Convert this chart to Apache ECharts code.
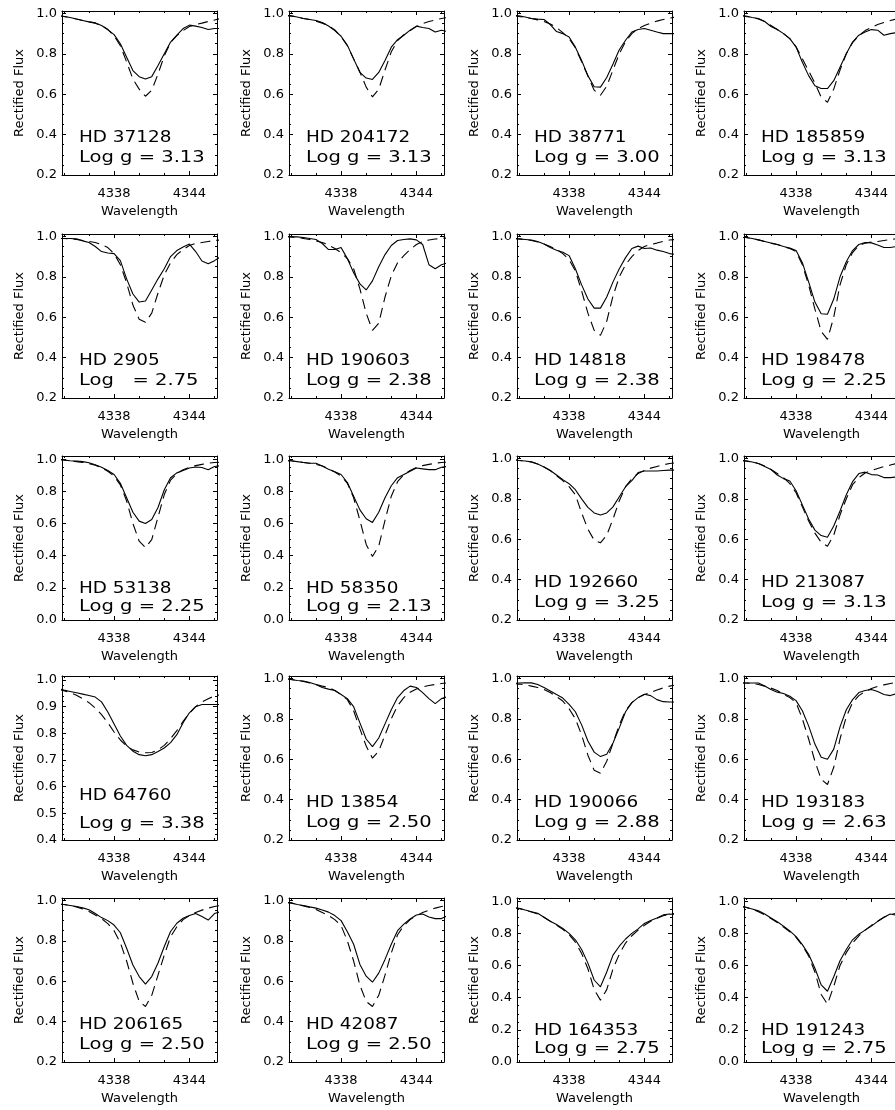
<!DOCTYPE html>
<html><head><meta charset="utf-8">
<script src="https://cdn.jsdelivr.net/npm/echarts@6/dist/echarts.min.js"></script>
<style>html,body{margin:0;padding:0;background:#fff}#c{width:895px;height:1110px}</style>
</head><body><div id="c"></div>
<script>
// ---------------- data ----------------
const WAVE = [4333.5,4334,4334.5,4335,4335.5,4336,4336.5,4337,4337.5,4338,4338.5,4339,4339.5,4340,4340.5,4341,4341.5,4342,4342.5,4343,4343.5,4344,4344.5,4345,4345.5,4346,4346.5];
const X_MIN = 4333.85, X_MAX = 4346.2;
const X_MAJOR = [4338, 4344];
const X_MINOR = [4334, 4336, 4340, 4342, 4346];

const STARS = ['HD 37128','HD 204172','HD 38771','HD 185859',
               'HD 2905','HD 190603','HD 14818','HD 198478',
               'HD 53138','HD 58350','HD 192660','HD 213087',
               'HD 64760','HD 13854','HD 190066','HD 193183',
               'HD 206165','HD 42087','HD 164353','HD 191243'];
const LOGG_LABELS = ['Log g = 3.13','Log g = 3.13','Log g = 3.00','Log g = 3.13',
                     'Log   = 2.75','Log g = 2.38','Log g = 2.38','Log g = 2.25',
                     'Log g = 2.25','Log g = 2.13','Log g = 3.25','Log g = 3.13',
                     'Log g = 3.38','Log g = 2.50','Log g = 2.88','Log g = 2.63',
                     'Log g = 2.50','Log g = 2.50','Log g = 2.75','Log g = 2.75'];
const Y_MIN  = [0.2,0.2,0.2,0.2, 0.2,0.2,0.2,0.2, 0.0,0.0,0.2,0.2, 0.4,0.2,0.2,0.2, 0.2,0.2,0.0,0.0];
const Y_STEP = [0.2,0.2,0.2,0.2, 0.2,0.2,0.2,0.2, 0.2,0.2,0.2,0.2, 0.1,0.2,0.2,0.2, 0.2,0.2,0.2,0.2];

// observed (solid) and model (dashed) rectified flux, sampled on WAVE
const OBS_37128  = [0.99,0.985,0.98,0.972,0.965,0.958,0.953,0.94,0.92,0.895,0.85,0.783,0.717,0.687,0.675,0.687,0.742,0.80,0.858,0.892,0.925,0.942,0.937,0.93,0.92,0.925,0.925];
const MOD_37128  = [0.99,0.985,0.98,0.972,0.965,0.958,0.952,0.94,0.92,0.89,0.84,0.76,0.675,0.625,0.59,0.62,0.70,0.79,0.855,0.89,0.915,0.935,0.945,0.952,0.96,0.967,0.975];
const OBS_204172 = [0.99,0.988,0.982,0.975,0.97,0.965,0.955,0.938,0.915,0.887,0.842,0.775,0.708,0.68,0.673,0.708,0.767,0.833,0.87,0.892,0.917,0.937,0.93,0.925,0.908,0.917,0.91];
const MOD_204172 = [0.99,0.988,0.982,0.975,0.97,0.962,0.952,0.94,0.918,0.885,0.84,0.775,0.71,0.635,0.587,0.625,0.72,0.81,0.865,0.895,0.915,0.935,0.95,0.96,0.967,0.975,0.98];
const OBS_38771  = [0.99,0.988,0.982,0.975,0.972,0.97,0.945,0.91,0.9,0.883,0.833,0.767,0.692,0.637,0.635,0.683,0.75,0.82,0.867,0.908,0.92,0.925,0.917,0.908,0.9,0.9,0.9];
const MOD_38771  = [0.99,0.985,0.98,0.975,0.968,0.96,0.948,0.93,0.905,0.875,0.83,0.76,0.69,0.62,0.595,0.64,0.72,0.80,0.86,0.9,0.925,0.94,0.952,0.962,0.97,0.977,0.982];
const OBS_185859 = [0.99,0.987,0.98,0.975,0.96,0.935,0.92,0.90,0.875,0.833,0.758,0.692,0.642,0.628,0.628,0.667,0.733,0.80,0.858,0.892,0.908,0.92,0.917,0.892,0.9,0.905,0.905];
const MOD_185859 = [0.99,0.985,0.98,0.972,0.96,0.94,0.92,0.9,0.875,0.835,0.775,0.715,0.655,0.585,0.56,0.625,0.72,0.80,0.855,0.89,0.915,0.93,0.945,0.955,0.965,0.972,0.978];
const OBS_2905   = [0.99,0.99,0.99,0.988,0.978,0.97,0.95,0.925,0.918,0.915,0.88,0.79,0.715,0.675,0.68,0.735,0.79,0.84,0.9,0.93,0.948,0.962,0.925,0.878,0.865,0.88,0.9];
const MOD_2905   = [0.99,0.99,0.988,0.985,0.98,0.975,0.97,0.96,0.945,0.915,0.86,0.77,0.66,0.59,0.575,0.62,0.72,0.81,0.87,0.91,0.935,0.955,0.965,0.97,0.975,0.98,0.982];
const OBS_190603 = [1.0,0.998,0.998,0.995,0.99,0.985,0.965,0.935,0.935,0.945,0.89,0.82,0.765,0.735,0.78,0.85,0.91,0.955,0.98,0.985,0.988,0.983,0.96,0.86,0.84,0.86,0.87];
const MOD_190603 = [1.0,0.998,0.995,0.99,0.985,0.978,0.97,0.958,0.94,0.92,0.89,0.84,0.74,0.62,0.535,0.57,0.7,0.805,0.87,0.905,0.935,0.96,0.975,0.982,0.987,0.99,0.992];
const OBS_14818  = [0.99,0.988,0.985,0.982,0.975,0.962,0.945,0.932,0.922,0.905,0.84,0.76,0.69,0.645,0.645,0.7,0.775,0.84,0.895,0.94,0.952,0.94,0.943,0.932,0.925,0.915,0.91];
const MOD_14818  = [0.99,0.988,0.985,0.98,0.972,0.962,0.95,0.935,0.915,0.885,0.83,0.73,0.62,0.535,0.51,0.58,0.705,0.8,0.86,0.9,0.93,0.95,0.96,0.967,0.975,0.982,0.985];
const OBS_198478 = [0.995,0.995,0.99,0.983,0.975,0.967,0.96,0.95,0.942,0.93,0.87,0.775,0.675,0.617,0.615,0.69,0.8,0.875,0.93,0.96,0.97,0.968,0.958,0.945,0.945,0.95,0.95];
const MOD_198478 = [0.995,0.995,0.99,0.983,0.975,0.967,0.96,0.95,0.94,0.925,0.86,0.76,0.64,0.53,0.49,0.6,0.76,0.86,0.92,0.955,0.967,0.972,0.975,0.98,0.985,0.988,0.99];
const OBS_53138  = [1.0,0.995,0.99,0.988,0.985,0.978,0.965,0.95,0.93,0.905,0.85,0.76,0.67,0.615,0.6,0.625,0.7,0.81,0.885,0.915,0.93,0.945,0.952,0.948,0.935,0.955,0.96];
const MOD_53138  = [1.0,0.995,0.99,0.985,0.98,0.972,0.962,0.948,0.925,0.895,0.84,0.74,0.6,0.49,0.45,0.5,0.64,0.78,0.87,0.91,0.935,0.95,0.96,0.968,0.975,0.98,0.982];
const OBS_58350  = [0.99,0.99,0.985,0.98,0.975,0.975,0.958,0.937,0.922,0.905,0.855,0.77,0.685,0.63,0.607,0.67,0.76,0.835,0.885,0.905,0.925,0.945,0.94,0.935,0.935,0.95,0.955];
const MOD_58350  = [0.99,0.99,0.985,0.98,0.975,0.968,0.958,0.94,0.92,0.895,0.85,0.76,0.62,0.47,0.395,0.46,0.62,0.77,0.86,0.905,0.93,0.948,0.96,0.968,0.975,0.98,0.982];
const OBS_192660 = [0.995,0.99,0.987,0.983,0.972,0.958,0.94,0.918,0.895,0.875,0.845,0.8,0.758,0.73,0.72,0.73,0.76,0.81,0.86,0.89,0.93,0.938,0.938,0.938,0.94,0.942,0.942];
const MOD_192660 = [0.995,0.99,0.987,0.982,0.972,0.958,0.94,0.915,0.89,0.86,0.82,0.73,0.65,0.595,0.582,0.62,0.7,0.79,0.86,0.9,0.925,0.94,0.952,0.96,0.968,0.975,0.978];
const OBS_213087 = [0.99,0.988,0.982,0.975,0.96,0.945,0.918,0.9,0.888,0.84,0.77,0.7,0.645,0.618,0.61,0.665,0.74,0.82,0.885,0.925,0.932,0.92,0.918,0.905,0.905,0.908,0.91];
const MOD_213087 = [0.99,0.987,0.982,0.975,0.962,0.945,0.925,0.905,0.875,0.83,0.76,0.69,0.63,0.585,0.565,0.62,0.72,0.8,0.87,0.905,0.928,0.94,0.95,0.96,0.967,0.975,0.98];
const OBS_64760  = [0.968,0.962,0.957,0.952,0.947,0.942,0.936,0.918,0.88,0.835,0.79,0.755,0.733,0.72,0.716,0.72,0.732,0.745,0.765,0.795,0.84,0.877,0.9,0.908,0.908,0.908,0.908];
const MOD_64760  = [0.965,0.96,0.952,0.943,0.93,0.915,0.895,0.87,0.84,0.805,0.775,0.752,0.738,0.73,0.727,0.728,0.738,0.755,0.78,0.81,0.845,0.875,0.9,0.918,0.93,0.94,0.945];
const OBS_13854  = [1.0,0.995,0.99,0.987,0.98,0.97,0.955,0.947,0.94,0.92,0.9,0.86,0.78,0.7,0.662,0.705,0.775,0.845,0.905,0.94,0.962,0.955,0.93,0.9,0.875,0.9,0.91];
const MOD_13854  = [1.0,0.995,0.99,0.985,0.978,0.97,0.962,0.955,0.94,0.92,0.895,0.84,0.75,0.665,0.605,0.64,0.72,0.8,0.865,0.905,0.932,0.948,0.958,0.965,0.97,0.975,0.978];
const OBS_190066 = [0.975,0.977,0.978,0.978,0.97,0.955,0.938,0.92,0.903,0.872,0.835,0.77,0.69,0.635,0.613,0.625,0.68,0.755,0.835,0.88,0.905,0.922,0.915,0.895,0.885,0.883,0.883];
const MOD_190066 = [0.975,0.972,0.968,0.962,0.955,0.945,0.93,0.91,0.888,0.85,0.8,0.72,0.62,0.545,0.53,0.59,0.68,0.77,0.84,0.88,0.905,0.92,0.93,0.943,0.953,0.962,0.968];
const OBS_193183 = [0.978,0.977,0.977,0.977,0.962,0.945,0.932,0.925,0.912,0.89,0.84,0.765,0.675,0.61,0.6,0.65,0.76,0.845,0.895,0.93,0.94,0.945,0.935,0.92,0.915,0.925,0.93];
const MOD_193183 = [0.978,0.977,0.975,0.97,0.962,0.952,0.94,0.922,0.905,0.88,0.8,0.7,0.59,0.5,0.475,0.56,0.7,0.81,0.88,0.915,0.935,0.95,0.96,0.968,0.975,0.98,0.983];
const OBS_206165 = [0.983,0.98,0.975,0.97,0.963,0.954,0.935,0.915,0.9,0.878,0.84,0.763,0.68,0.623,0.586,0.623,0.69,0.772,0.846,0.887,0.912,0.925,0.935,0.92,0.903,0.935,0.945];
const MOD_206165 = [0.983,0.98,0.975,0.968,0.958,0.945,0.928,0.91,0.885,0.85,0.79,0.7,0.59,0.5,0.475,0.53,0.63,0.73,0.82,0.87,0.905,0.925,0.94,0.952,0.962,0.97,0.975];
const OBS_42087  = [0.99,0.988,0.98,0.975,0.968,0.962,0.953,0.942,0.925,0.9,0.845,0.783,0.683,0.625,0.595,0.64,0.708,0.783,0.85,0.883,0.908,0.928,0.933,0.918,0.91,0.91,0.925];
const MOD_42087  = [0.99,0.988,0.98,0.973,0.965,0.955,0.94,0.925,0.905,0.875,0.8,0.7,0.58,0.5,0.475,0.53,0.63,0.74,0.83,0.875,0.905,0.925,0.94,0.952,0.962,0.97,0.975];
const OBS_164353 = [0.96,0.956,0.945,0.935,0.925,0.9,0.875,0.855,0.83,0.8,0.76,0.7,0.615,0.51,0.468,0.56,0.665,0.72,0.765,0.8,0.828,0.862,0.88,0.895,0.915,0.92,0.918];
const MOD_164353 = [0.96,0.955,0.945,0.933,0.92,0.9,0.875,0.85,0.825,0.792,0.745,0.675,0.58,0.45,0.385,0.45,0.58,0.67,0.74,0.785,0.82,0.85,0.875,0.893,0.91,0.92,0.925];
const OBS_191243 = [0.968,0.962,0.952,0.94,0.92,0.896,0.872,0.845,0.815,0.78,0.73,0.67,0.583,0.48,0.44,0.53,0.63,0.7,0.76,0.795,0.82,0.845,0.875,0.9,0.92,0.912,0.91];
const MOD_191243 = [0.97,0.962,0.95,0.935,0.915,0.893,0.868,0.84,0.81,0.775,0.725,0.66,0.56,0.42,0.36,0.47,0.6,0.68,0.74,0.785,0.82,0.85,0.875,0.9,0.915,0.925,0.93];

const OBSERVED = [OBS_37128,OBS_204172,OBS_38771,OBS_185859, OBS_2905,OBS_190603,OBS_14818,OBS_198478,
                  OBS_53138,OBS_58350,OBS_192660,OBS_213087, OBS_64760,OBS_13854,OBS_190066,OBS_193183,
                  OBS_206165,OBS_42087,OBS_164353,OBS_191243];
const MODEL    = [MOD_37128,MOD_204172,MOD_38771,MOD_185859, MOD_2905,MOD_190603,MOD_14818,MOD_198478,
                  MOD_53138,MOD_58350,MOD_192660,MOD_213087, MOD_64760,MOD_13854,MOD_190066,MOD_193183,
                  MOD_206165,MOD_42087,MOD_164353,MOD_191243];

// ---------------- layout ----------------
const FONT = 'DejaVu Sans';
const COL_LEFT = [62, 289, 517, 744];
const ROW_TOP = [11, 234, 456, 676, 898];
const BOX_W = 155, BOX_H = 164;

function yMaxOf(i){ return Y_MIN[i] === 0 ? 1.02 : (Y_MIN[i] === 0.4 ? 1.015 : 1.012); }
function r4(v){ return Math.round(v*10000)/10000; }
function yMajors(i){ const a=[]; for(let v=Y_MIN[i]; v<=1.0001; v+=Y_STEP[i]) a.push(r4(v)); return a; }
function yMinors(i){
  const m = Y_STEP[i] === 0.1 ? 0.02 : 0.05; const maj = yMajors(i); const a=[];
  for(let v=Y_MIN[i]; v<=yMaxOf(i)+1e-9; v+=m){ const w=r4(v); if(!maj.some(x=>Math.abs(x-w)<1e-6)) a.push(w); }
  return a;
}
function textOffsets(i){
  if (Y_MIN[i] === 0) return [133, 150.5];
  if (Y_MIN[i] === 0.4) return [120, 147.5];
  return [126.5, 147];
}

const grids=[], xAxes=[], yAxes=[], series=[], graphics=[];
const black = {color:'#000', width:1};
for (let i=0;i<20;i++){
  const r=Math.floor(i/4), c=i%4;
  const left=COL_LEFT[c], top=ROW_TOP[r];
  const g = {left:left, top:top, width:BOX_W, height:BOX_H, containLabel:false, outerBoundsMode:'none', show:false};
  grids.push(Object.assign({},g), Object.assign({},g));
  const gA=2*i, gB=2*i+1;
  const ymin=Y_MIN[i], ymax=yMaxOf(i);
  const baseX = (gi,pos,ticks,len,line,labels)=>({
    type:'value', gridIndex:gi, position:pos, min:X_MIN, max:X_MAX,
    axisLine:{show:line, onZero:false, lineStyle:black},
    axisTick:{show:true, inside:true, length:len, customValues:ticks, lineStyle:black},
    axisLabel: labels ? {show:true, customValues:X_MAJOR, margin:12, color:'#000', fontSize:13, fontFamily:FONT,
                         formatter:v=>String(Math.round(v))} : {show:false},
    splitLine:{show:false}, minorTick:{show:false}, minorSplitLine:{show:false},
    name: labels ? 'Wavelength' : '', nameLocation:'middle', nameGap:30, nameMoveOverlap:false,
    nameTextStyle:{color:'#000', fontSize:13, fontFamily:FONT}
  });
  const baseY = (gi,pos,ticks,len,line,labels)=>({
    type:'value', gridIndex:gi, position:pos, min:ymin, max:ymax,
    axisLine:{show:line, onZero:false, lineStyle:black},
    axisTick:{show:true, inside:true, length:len, customValues:ticks, lineStyle:black},
    axisLabel: labels ? {show:true, customValues:yMajors(i), margin:5, color:'#000', fontSize:13, fontFamily:FONT,
                         formatter:v=>Number(v).toFixed(1)} : {show:false},
    splitLine:{show:false}, minorTick:{show:false}, minorSplitLine:{show:false},
    name: labels ? 'Rectified Flux' : '', nameLocation:'middle', nameGap:36, nameMoveOverlap:false,
    nameTextStyle:{color:'#000', fontSize:13, fontFamily:FONT}
  });
  xAxes.push(baseX(gA,'bottom',X_MAJOR,4,true,true), baseX(gA,'top',X_MAJOR,4,true,false),
             baseX(gB,'bottom',X_MINOR,2,false,false), baseX(gB,'top',X_MINOR,2,false,false));
  yAxes.push(baseY(gA,'left',yMajors(i),4,true,true), baseY(gA,'right',yMajors(i),4,true,false),
             baseY(gB,'left',yMinors(i),2,false,false), baseY(gB,'right',yMinors(i),2,false,false));
  const xi=4*i, yi=4*i;
  series.push({
    type:'line', name:STARS[i]+' observed', xAxisIndex:xi, yAxisIndex:yi, showSymbol:false, symbol:'none',
    clip:true, smooth:false, data:WAVE.map((w,k)=>[w, OBSERVED[i][k]]),
    lineStyle:{color:'#000', width:1.1, type:'solid'}, silent:true, z:3
  });
  series.push({
    type:'line', name:STARS[i]+' model', xAxisIndex:xi, yAxisIndex:yi, showSymbol:false, symbol:'none',
    clip:true, smooth:false, data:WAVE.map((w,k)=>[w, MODEL[i][k]]),
    lineStyle:{color:'#000', width:1.1, type:[10,6]}, silent:true, z:2
  });
  const off=textOffsets(i);
  graphics.push({type:'text', x:left+17, y:top+off[0], scaleX:1.15, silent:true, z:10,
    style:{text:STARS[i], fontSize:16, fontFamily:FONT, fill:'#000', verticalAlign:'middle', align:'left'}});
  graphics.push({type:'text', x:left+17, y:top+off[1], scaleX:1.22, silent:true, z:10,
    style:{text:LOGG_LABELS[i], fontSize:16, fontFamily:FONT, fill:'#000', verticalAlign:'middle', align:'left'}});
}

const chart = echarts.init(document.getElementById('c'), null, {renderer:'canvas'});
chart.setOption({
  animation:false, backgroundColor:'#fff',
  grid:grids, xAxis:xAxes, yAxis:yAxes, series:series, graphic:graphics,
  tooltip:{show:false}, legend:{show:false}
});
</script></body></html>
